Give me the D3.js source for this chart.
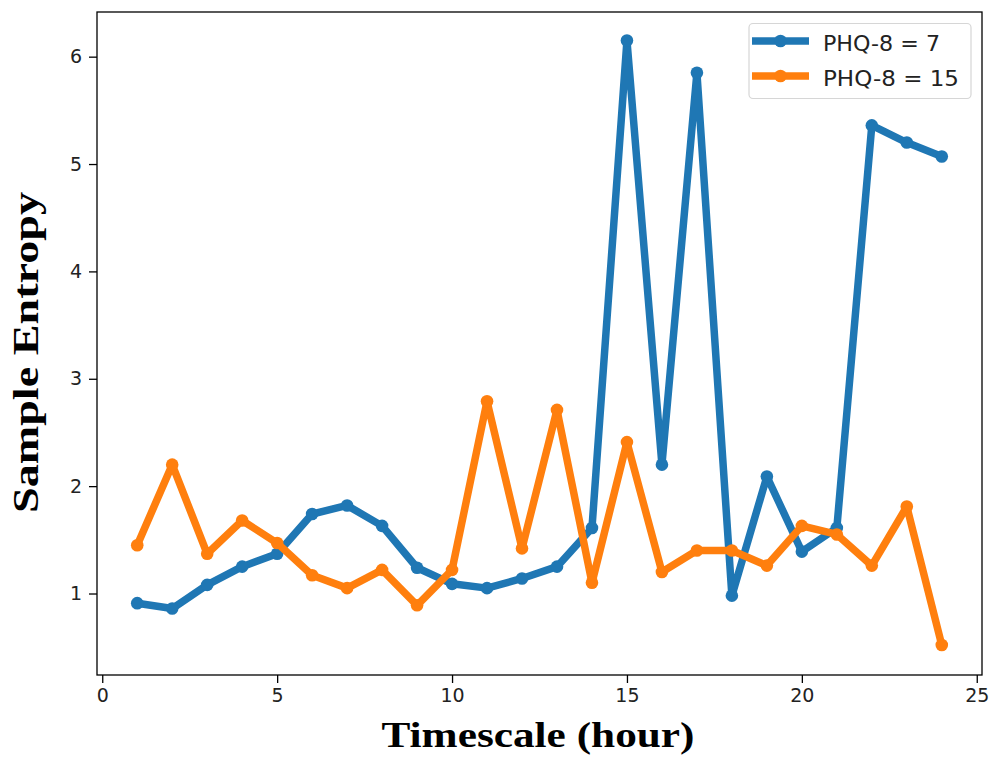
<!DOCTYPE html>
<html>
<head>
<meta charset="utf-8">
<script src="https://cdn.jsdelivr.net/npm/d3@7"></script>
<style>
  html, body { margin: 0; padding: 0; background: #fff; }
  svg { display: block; }
</style>
</head>
<body>
<svg id="chart" width="993" height="763"></svg>
<script>
const hours = [1,2,3,4,5,6,7,8,9,10,11,12,13,14,15,16,17,18,19,20,21,22,23,24];
const phq7 = [0.91,0.86,1.08,1.25,1.37,1.74,1.82,1.63,1.24,1.09,1.05,1.14,1.25,1.61,6.15,2.20,5.85,0.98,2.09,1.39,1.61,5.36,5.20,5.07];
const phq15 = [1.45,2.20,1.37,1.68,1.47,1.17,1.05,1.22,0.89,1.22,2.79,1.42,2.71,1.10,2.41,1.20,1.40,1.40,1.26,1.63,1.55,1.26,1.81,0.52];
const seriesNames = ["PHQ-8 = 7", "PHQ-8 = 15"];
const seriesColors = ["#1f77b4", "#ff7f0e"];
const xTicks = [0,5,10,15,20,25];
const yTicks = [1,2,3,4,5,6];
const xTitle = "Timescale (hour)";
const yTitle = "Sample Entropy";

const svg = d3.select("#chart");
const L = 97, R = 982, T = 12, B = 675;

const x = d3.scaleLinear().domain([-0.15, 25.15]).range([L, R]);
const y = d3.scaleLinear().domain([0.241, 6.416]).range([B, T]);

// axes
const xAxis = d3.axisBottom(x).tickValues(xTicks).tickSize(8).tickPadding(6).tickFormat(d3.format("d"));
const yAxis = d3.axisLeft(y).tickValues(yTicks).tickSize(8).tickPadding(7).tickFormat(d3.format("d"));

const gx = svg.append("g").attr("transform", `translate(0,${B})`).call(xAxis);
const gy = svg.append("g").attr("transform", `translate(${L},0)`).call(yAxis);
[gx, gy].forEach(g => {
  g.select(".domain").remove();
  g.selectAll(".tick line").attr("stroke", "#000").attr("stroke-width", 1.3);
  g.selectAll(".tick text").attr("fill", "#222").style("font-family", "'DejaVu Sans', sans-serif").style("font-size", "19px");
});

const data = [phq7, phq15];
const line = d3.line().x((d, i) => x(hours[i])).y(d => y(d));

const clip = svg.append("clipPath").attr("id", "clip").append("rect")
  .attr("x", L).attr("y", T).attr("width", R - L).attr("height", B - T);

const plot = svg.append("g").attr("clip-path", "url(#clip)");
data.forEach((vals, si) => {
  const g = plot.append("g");
  g.append("path").datum(vals)
    .attr("d", line)
    .attr("fill", "none")
    .attr("stroke", seriesColors[si])
    .attr("stroke-width", 7.5)
    .attr("stroke-linejoin", "round")
    .attr("stroke-linecap", "butt");
  g.selectAll("circle").data(vals).join("circle")
    .attr("cx", (d, i) => x(hours[i]))
    .attr("cy", d => y(d))
    .attr("r", 6.3)
    .attr("fill", seriesColors[si]);
});

// frame
svg.append("rect").attr("x", L).attr("y", T).attr("width", R - L).attr("height", B - T)
  .attr("fill", "none").attr("stroke", "#000").attr("stroke-width", 1.3);

// legend
const lg = svg.append("g");
lg.append("rect").attr("x", 749).attr("y", 23.5).attr("width", 222).attr("height", 75)
  .attr("rx", 4).attr("fill", "#fff").attr("fill-opacity", 0.8)
  .attr("stroke", "#d6d6d6").attr("stroke-width", 1.2);
const legendTextLen = [117, 136];
seriesNames.forEach((name, i) => {
  const yy = 41 + i * 35;
  lg.append("line").attr("x1", 752).attr("x2", 809).attr("y1", yy).attr("y2", yy)
    .attr("stroke", seriesColors[i]).attr("stroke-width", 7.5);
  lg.append("circle").attr("cx", 780.5).attr("cy", yy).attr("r", 6.3).attr("fill", seriesColors[i]);
  lg.append("text").attr("x", 823).attr("y", yy + 9.5)
    .attr("textLength", legendTextLen[i]).attr("lengthAdjust", "spacingAndGlyphs")
    .style("font-family", "'DejaVu Sans', sans-serif").style("font-size", "21px").attr("fill", "#222")
    .text(name);
});

// axis titles
svg.append("text").attr("x", 538).attr("y", 747)
  .attr("text-anchor", "middle")
  .attr("textLength", 313).attr("lengthAdjust", "spacingAndGlyphs")
  .style("font-family", "'Liberation Serif', 'Times New Roman', serif")
  .style("font-weight", "bold").style("font-size", "36px").attr("fill", "#000")
  .text(xTitle);

svg.append("text")
  .attr("transform", `translate(38,352.5) rotate(-90)`)
  .attr("text-anchor", "middle")
  .attr("textLength", 321).attr("lengthAdjust", "spacingAndGlyphs")
  .style("font-family", "'Liberation Serif', 'Times New Roman', serif")
  .style("font-weight", "bold").style("font-size", "36px").attr("fill", "#000")
  .text(yTitle);
</script>
</body>
</html>
